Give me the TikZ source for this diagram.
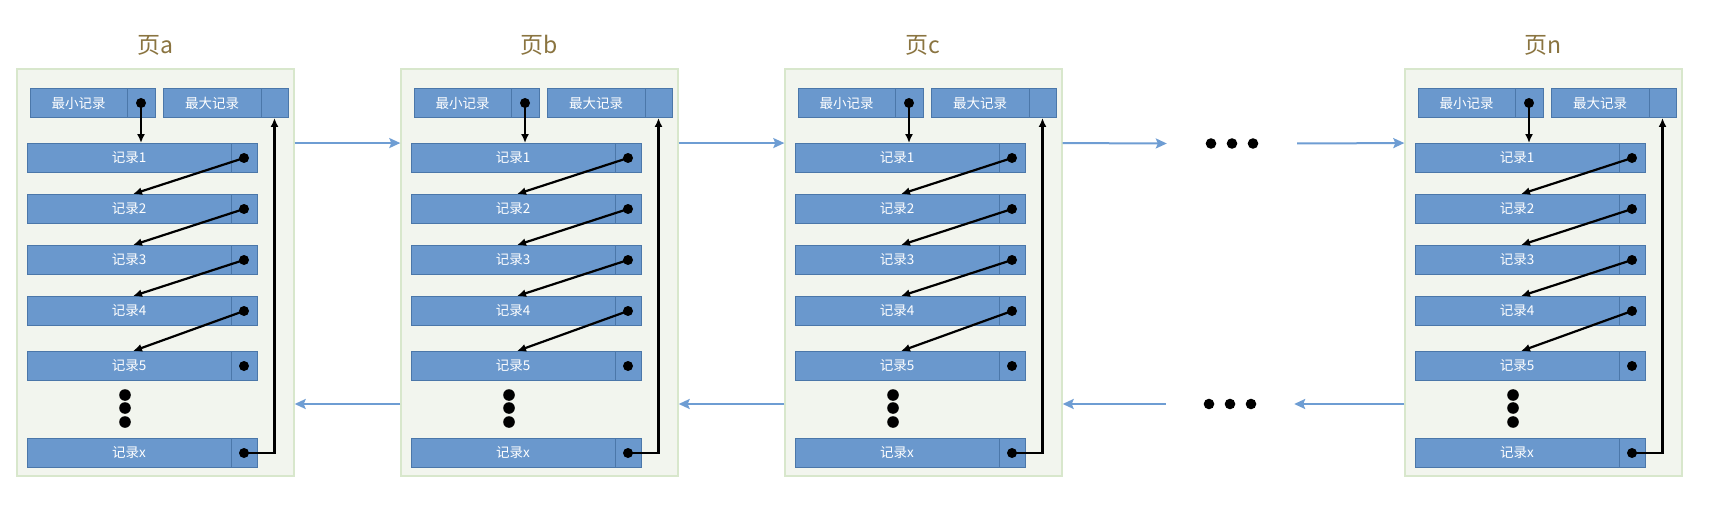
\documentclass[tikz,border=0pt]{standalone}
\usepackage{fontspec}
\newfontfamily\cjk{Noto Sans CJK SC}
\usetikzlibrary{arrows.meta}
\definecolor{pagefill}{HTML}{F2F5EE}
\definecolor{pageline}{HTML}{D8E7CC}
\definecolor{recfill}{HTML}{6A98CD}
\definecolor{recline}{HTML}{4B77A9}
\definecolor{linkblue}{HTML}{6E9DD3}
\definecolor{titlecol}{HTML}{8A7440}
\tikzset{
  pagebox/.style={draw=pageline, fill=pagefill, line width=1.4pt, minimum width=277pt, minimum height=407pt, inner sep=0pt},
  cell/.style={draw=recline, fill=recfill, line width=0.9pt, text=white, font=\cjk\fontsize{13.5}{13.5}\selectfont, inner sep=0pt, minimum height=29pt},
  ptr/.style={-{Latex[length=9pt,width=8pt]}, line width=2.2pt},
  link/.style={-{Stealth[length=11pt,width=10pt,inset=2pt]}, linkblue, line width=2pt},
  pagetitle/.style={text=titlecol, font=\cjk\fontsize{23}{23}\selectfont},
}
% one page: name, left edge, title letter
\newcommand{\drawpage}[3]{%
\begin{scope}[shift={(#2,0)}]
\node[pagebox] (#1) at (138.5,272.5) {};
\node[pagetitle] (#1-t) at (138,45) {页#3};
\node[cell, minimum width=97pt] (#1-min) at (61.5,103) {最小记录};
\node[cell, minimum width=28pt] (#1-minp) at (124,103) {};
\node[cell, minimum width=98pt] (#1-max) at (195,103) {最大记录};
\node[cell, minimum width=27pt] (#1-maxp) at (257.5,103) {};
\foreach \r/\y in {1/158,2/209,3/260,4/311,5/366,x/453} {
  \node[cell, minimum width=204pt] (#1-r\r) at (112,\y) {记录\r};
  \node[cell, minimum width=26pt] (#1-p\r) at (227,\y) {};
  \fill (#1-p\r) circle (5pt);
}
\fill (#1-minp) circle (5pt);
\draw[ptr] (#1-minp.center) -- (#1-minp.center |- #1-r1.north);
\foreach \i/\j in {1/2,2/3,3/4,4/5}
  \draw[ptr] (#1-p\i.center) -- ([xshift=4pt]#1-r\j.north);
\draw[ptr] (#1-px.center) -| (#1-maxp.south);
% vertical dots
\foreach \y in {395,408,422} \fill (108,\y) circle (5.8pt);
\coordinate (#1-mid) at (108,404);
\end{scope}}

\begin{document}
\begin{tikzpicture}[x=1pt,y=-1pt]
\useasboundingbox (0,0) rectangle (1724,516);
\drawpage{a}{17}{a}
\drawpage{b}{401}{b}
\drawpage{c}{785}{c}
\drawpage{n}{1405}{n}
% dots between c and n
\node[minimum width=130pt, inner sep=0pt] (etop) at (1232,143.5) {};
\node[minimum width=128pt, inner sep=0pt] (ebot) at (1230,404) {};
\foreach \x in {-21,0,21} {
  \fill ([xshift=\x pt]etop.center) circle (5.3pt);
  \fill ([xshift=\x pt]ebot.center) circle (5.3pt);
}
% page links
\draw[link] (a.east |- a-r1.north) -- (b.west |- a-r1.north);
\draw[link] (b.east |- b-r1.north) -- (c.west |- b-r1.north);
\draw[link] (c.east |- c-r1.north) -- (etop.west);
\draw[link] (etop.east) -- (n.west |- n-r1.north);
\draw[link] (b.west |- b-mid) -- (a.east |- a-mid);
\draw[link] (c.west |- c-mid) -- (b.east |- b-mid);
\draw[link] (ebot.west) -- (c.east |- c-mid);
\draw[link] (n.west |- n-mid) -- (ebot.east);
\end{tikzpicture}
\end{document}
